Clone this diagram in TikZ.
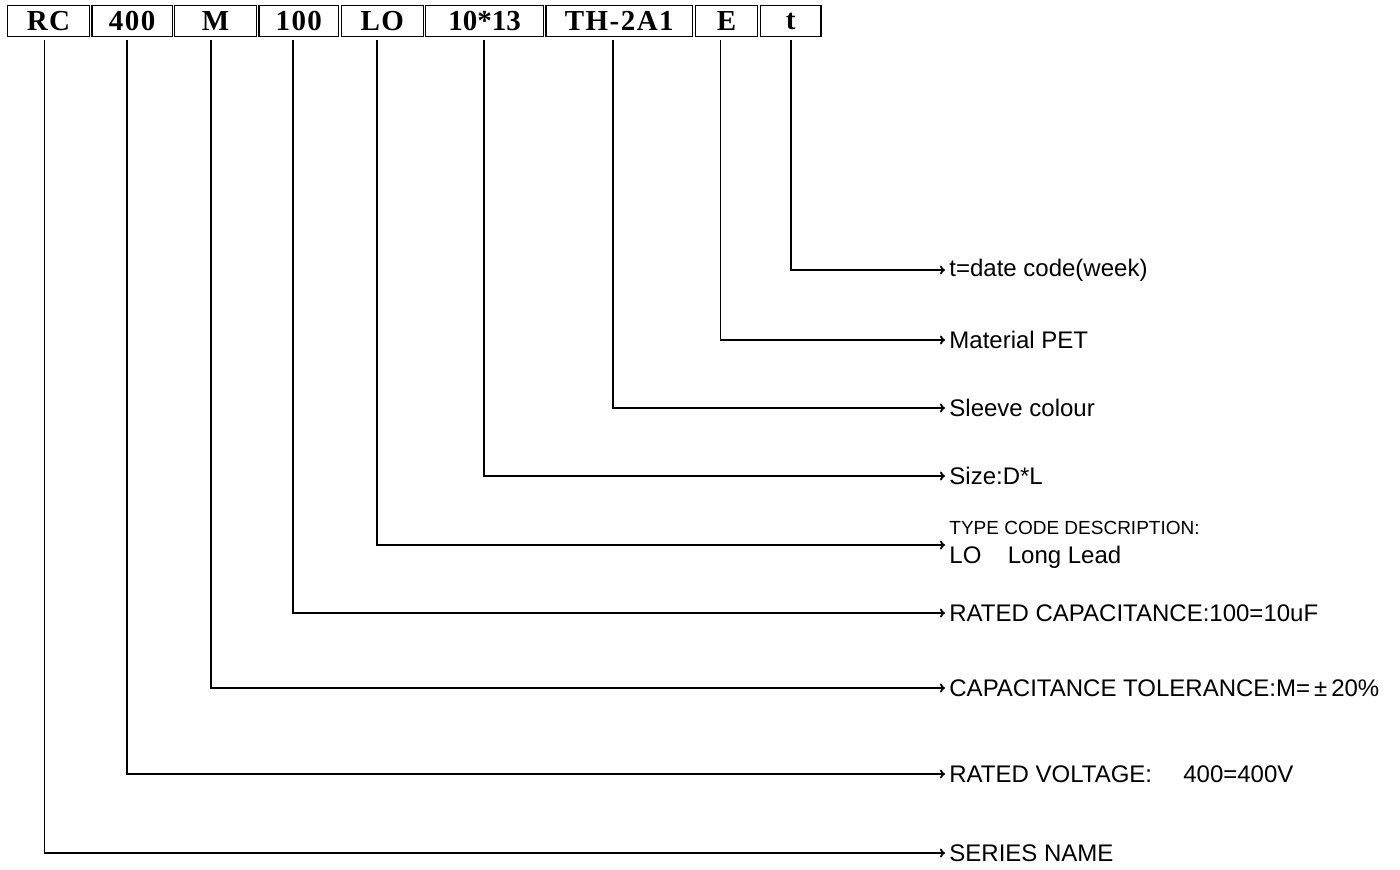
\documentclass[tikz,border=0pt]{standalone}
\usepackage{fontspec}
\setmainfont{Liberation Serif}
\setsansfont{Liberation Sans}
\newfontfamily\cellfont[LetterSpace=5]{Liberation Serif}
\usepackage{tikz}
\usetikzlibrary{arrows.meta,positioning}

\begin{document}
\begin{tikzpicture}[
    x=0.5pt, y=-0.5pt,
    cell/.style={draw, line width=0.6pt, minimum height=15.6pt, inner sep=0pt,
        font=\cellfont\bfseries\fontsize{14.5}{15}\selectfont},
    desc/.style={anchor=west, inner sep=2pt, align=left,
        font=\sffamily\fontsize{12}{14.5}\selectfont},
    lead/.style={line width=0.9pt, -{To[length=2.5pt,width=4.5pt]}}
]
\useasboundingbox (0,0) rectangle (1400,869);

% part number cells
\node[cell, anchor=north west, minimum width=40.9pt] (rc) at (7,5) {RC};
\node[cell, minimum width=40.1pt, right=0.7pt of rc] (volt) {400};
\node[cell, minimum width=40.8pt, right=0.7pt of volt] (tol) {M};
\node[cell, minimum width=39.8pt, right=0.7pt of tol] (cap) {100};
\node[cell, minimum width=41pt, right=0.7pt of cap] (type) {LO};
\node[cell, minimum width=58.8pt, right=0.7pt of type,
    font=\rmfamily\bfseries\fontsize{14.5}{15}\selectfont] (size) {10*13};
\node[cell, minimum width=73.3pt, right=0.7pt of size] (sleeve) {TH-2A1};
\node[cell, minimum width=31.3pt, right=0.7pt of sleeve] (mat) {E};
\node[cell, minimum width=30.3pt, right=0.7pt of mat] (date) {t};

% descriptions
\node[desc] (d-date) at (945,270) {t=date code(week)};
\node[desc] (d-mat) at (945,340) {Material PET};
\node[desc] (d-sleeve) at (945,408) {Sleeve colour};
\node[desc] (d-size) at (945,476) {Size:D*L};
\node[desc] (d-type) at (945,545) {{\fontsize{9.5}{11}\selectfont TYPE CODE DESCRIPTION:}\\LO\hspace{1.1em}Long Lead};
\node[desc] (d-cap) at (945,613) {RATED CAPACITANCE:100=10uF};
\node[desc] (d-tol) at (945,688) {CAPACITANCE TOLERANCE:M=\,±\,20\%};
\node[desc] (d-volt) at (945,774) {RATED VOLTAGE:\hspace{1.3em}400=400V};
\node[desc] (d-rc) at (945,853) {SERIES NAME};

% leaders
\foreach \c/\dx in {rc/-2,volt/-2.5,tol/-2.5,cap/-3,type/-2.5,size/-0.5,sleeve/-3,mat/-3,date/0}
    \draw[lead] ([xshift=\dx pt, yshift=-1.5pt]\c.south) |- (d-\c.west);
\end{tikzpicture}
\end{document}
